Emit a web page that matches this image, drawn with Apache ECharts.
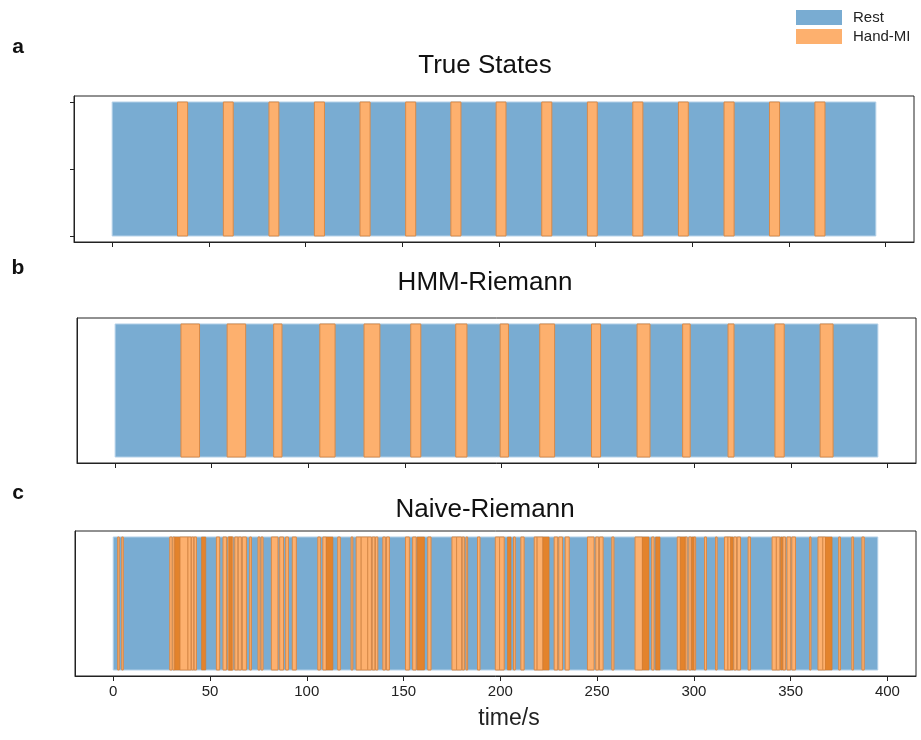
<!DOCTYPE html>
<html>
<head>
<meta charset="utf-8">
<script src="https://cdn.jsdelivr.net/npm/echarts@6/dist/echarts.min.js"></script>
<style>
  html, body { margin: 0; padding: 0; background: #fff; }
  #main { width: 921px; height: 740px; }
</style>
</head>
<body>
<div id="main"></div>
<script>
// session length in seconds (every panel starts at 0)
var totalTime = 395;

// Hand-MI intervals [start, end] in seconds
var trueMI = [
    [33.8, 39.0], [57.5, 62.6], [81.1, 86.2], [104.6, 109.8], [128.2, 133.4],
    [151.8, 157.0], [175.2, 180.4], [198.6, 203.7], [222.2, 227.4], [245.8, 250.9],
    [269.3, 274.5], [292.9, 298.0], [316.5, 321.7], [340.0, 345.2], [363.5, 368.7]
];
var hmmMI = [
    [34.1, 43.7], [58.0, 67.6], [82.1, 86.4], [106.0, 113.9], [128.9, 137.1],
    [153.1, 158.3], [176.4, 182.2], [199.4, 203.7], [219.9, 227.6], [246.7, 251.4],
    [270.3, 277.0], [293.9, 297.8], [317.4, 320.5], [341.7, 346.5], [365.1, 371.8]
];
var naiveMI = [
    [2.3, 3.1], [4.4, 5.2],
    [29.2, 30.4], [30.8, 31.8], [34.4, 38.6], [38.6, 40.2], [40.4, 41.6], [41.8, 43.0],
    [53.3, 55.0], [56.7, 58.5], [59.3, 61.9], [62.8, 64.4], [64.6, 66.2], [66.7, 68.8],
    [70.5, 71.4], [74.8, 75.8], [76.4, 77.4],
    [81.7, 85.1], [86.0, 88.0], [89.1, 90.5], [92.5, 94.6],
    [105.7, 107.0], [108.3, 110.1], [116.0, 117.3], [122.9, 123.8],
    [125.5, 128.1], [128.1, 131.5], [131.5, 133.4], [133.8, 135.2], [135.5, 136.7],
    [139.3, 140.6], [141.2, 142.7], [151.0, 153.0], [154.7, 156.5], [162.5, 164.2],
    [175.0, 177.4], [177.4, 180.0], [180.3, 181.4], [182.3, 183.1], [188.2, 189.5],
    [197.4, 199.6], [199.6, 202.0], [206.8, 207.7], [210.6, 212.3],
    [217.5, 219.0], [219.0, 222.0], [227.8, 229.6], [230.2, 232.1], [233.5, 235.6],
    [245.0, 248.4], [249.3, 250.8], [251.2, 253.1], [257.6, 258.7],
    [269.6, 273.4], [278.2, 279.4], [291.4, 293.0], [295.5, 296.5], [297.4, 298.6],
    [300.0, 300.9], [305.5, 306.5], [311.2, 312.0],
    [315.8, 317.6], [317.6, 319.0], [320.6, 322.0], [322.4, 324.1], [328.0, 329.2],
    [340.4, 342.6], [342.6, 344.4], [346.0, 347.3], [348.1, 350.0], [350.6, 352.5],
    [359.8, 360.5], [364.1, 366.6], [366.6, 368.0], [374.8, 375.7], [381.6, 382.5], [386.8, 388.0]
];
// stretches where Naive-Riemann flips so often the stripes merge into dark orange
var naiveDense = [
    [31.8, 34.4], [45.6, 47.8], [59.8, 61.4], [110.1, 113.5], [157.0, 160.8],
    [203.7, 205.5], [222.0, 225.2], [273.4, 276.8], [280.2, 282.5], [293.0, 295.5],
    [298.8, 300.0], [319.0, 320.2], [344.8, 345.8], [368.0, 371.4]
];

var timeTicks = [0, 50, 100, 150, 200, 250, 300, 350, 400];
var stateTicks = [0, 0.5, 1];
var panelTitles = ['True States', 'HMM-Riemann', 'Naive-Riemann'];
var panelLetters = ['a', 'b', 'c'];

var restColor = '#79acd2';
var miColor = '#fdb06e';
var miEdge = '#d98a48';
var denseColor = '#e3832c';
var fontFamily = "'Liberation Sans', Arial, sans-serif";

var myChart = echarts.init(document.getElementById('main'));

var grids = [
    { left: 74, top: 96, width: 840, height: 146 },
    { left: 77, top: 318, width: 839, height: 145 },
    { left: 75, top: 531, width: 841, height: 145 }
];
var titleY = [66, 283, 510];
var letterY = [47, 268, 493];

function spanItem(params, api) {
    var p0 = api.coord([api.value(0), 1]);
    var p1 = api.coord([api.value(1), 0]);
    var rect = echarts.graphic.clipRectByRect({
        x: p0[0], y: p0[1], width: p1[0] - p0[0], height: p1[1] - p0[1]
    }, params.coordSys);
    if (!rect) return;
    return { type: 'rect', shape: rect, style: api.style() };
}

var gridList = [], xList = [], yList = [], seriesList = [], graphicList = [];
var panelMI = [trueMI, hmmMI, naiveMI];

for (let i = 0; i < 3; i++) {
    gridList.push({
        left: grids[i].left, top: grids[i].top, width: grids[i].width, height: grids[i].height,
        show: true, borderColor: '#222', borderWidth: 1, backgroundColor: 'transparent'
    });
    xList.push({
        type: 'value', gridIndex: i, min: -19.75, max: 414.75,
        axisLine: { show: true, onZero: false, lineStyle: { color: '#222', width: 1 } },
        axisTick: { show: true, customValues: timeTicks, length: 5, lineStyle: { color: '#222' } },
        axisLabel: {
            show: i === 2, customValues: timeTicks, fontSize: 15, margin: 8,
            color: '#222', fontFamily: fontFamily
        },
        splitLine: { show: false }
    });
    yList.push({
        type: 'value', gridIndex: i, min: -0.045, max: 1.045,
        axisLine: { show: true, onZero: false, lineStyle: { color: '#222', width: 1 } },
        axisTick: { show: i === 0, customValues: stateTicks, length: 4, lineStyle: { color: '#222' } },
        axisLabel: { show: false },
        splitLine: { show: false }
    });

    // Rest: the whole session drawn first, Hand-MI stripes on top
    seriesList.push({
        type: 'custom', name: 'Rest', xAxisIndex: i, yAxisIndex: i,
        renderItem: spanItem, encode: { x: [0, 1] },
        itemStyle: { color: restColor, borderColor: '#b3d0e8', borderWidth: 1 },
        data: [[0, totalTime]], silent: true
    });
    seriesList.push({
        type: 'custom', name: 'Hand-MI', xAxisIndex: i, yAxisIndex: i,
        renderItem: spanItem, encode: { x: [0, 1] },
        itemStyle: { color: miColor, borderColor: miEdge, borderWidth: 1 },
        data: panelMI[i], silent: true
    });
    if (i === 2) {
        seriesList.push({
            type: 'custom', name: 'Hand-MI', xAxisIndex: i, yAxisIndex: i,
            renderItem: spanItem, encode: { x: [0, 1] },
            itemStyle: { color: denseColor, borderColor: '#d47b2e', borderWidth: 0.6 },
            data: naiveDense, silent: true
        });
    }

    graphicList.push({
        type: 'text', x: 485, y: titleY[i],
        style: {
            text: panelTitles[i], fontSize: 26, fill: '#111', fontFamily: fontFamily,
            textAlign: 'center', textVerticalAlign: 'middle'
        }
    });
    graphicList.push({
        type: 'text', x: 18, y: letterY[i],
        style: {
            text: panelLetters[i], fontSize: 21, fontWeight: 'bold', fill: '#111', fontFamily: fontFamily,
            textAlign: 'center', textVerticalAlign: 'middle'
        }
    });
}

// x axis title under the last panel
graphicList.push({
    type: 'text', x: 509, y: 719,
    style: {
        text: 'time/s', fontSize: 23, fill: '#222', fontFamily: fontFamily,
        textAlign: 'center', textVerticalAlign: 'middle'
    }
});

myChart.setOption({
    animation: false,
    backgroundColor: '#fff',
    legend: {
        data: ['Rest', 'Hand-MI'],
        orient: 'vertical', left: 796, top: 10, padding: 0,
        itemWidth: 46, itemHeight: 15, itemGap: 4,
        icon: 'rect',
        itemStyle: { borderWidth: 0 },
        textStyle: { fontSize: 15, color: '#222', fontFamily: fontFamily, padding: [0, 0, 0, 6] },
        selectedMode: false
    },
    grid: gridList,
    xAxis: xList,
    yAxis: yList,
    series: seriesList,
    graphic: graphicList
});
</script>
</body>
</html>
